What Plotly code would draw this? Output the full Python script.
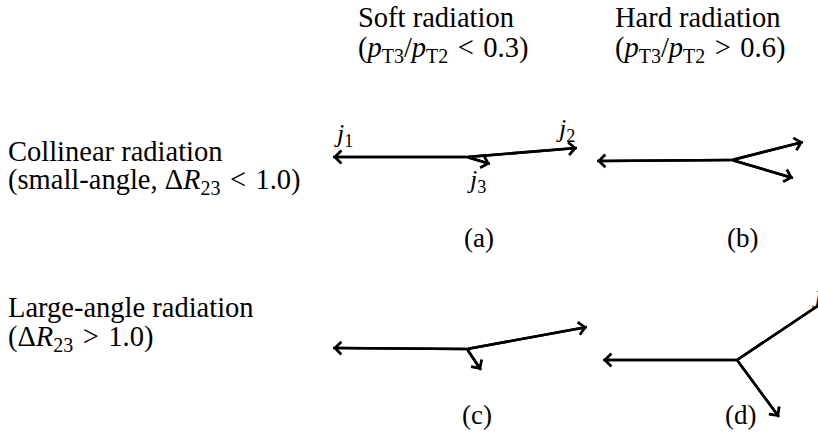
import plotly.graph_objects as go

# ---- diagram data (page coordinates, y downward) ----
panel_labels = ["(a)", "(b)", "(c)", "(d)"]
label_x = [479, 742, 477, 740]
label_y = [238, 238, 415, 415]

vertex_x = [467, 732, 467, 737]
vertex_y = [157, 160, 349, 360]
j1_tip_x = [333, 597, 333, 603]
j1_tip_y = [157, 161, 348, 360]
j2_tip_x = [577, 803, 587, 852]
j2_tip_y = [148, 142, 327, 283]
j3_tip_x = [490, 793, 481, 779]
j3_tip_y = [164, 178, 370, 417]

jet_names = ["<i>j</i><sub>1</sub>", "<i>j</i><sub>2</sub>", "<i>j</i><sub>3</sub>"]
jet_name_x = [343, 565, 476]
jet_name_y = [135, 130, 181]

SP = "\u2004"
col_titles = ["Soft radiation", "Hard radiation"]
col_subtitles = ["(<i>p</i><sub>T3</sub>/<i>p</i><sub>T2</sub>" + SP + "&lt;" + SP + "0.3)",
                 "(<i>p</i><sub>T3</sub>/<i>p</i><sub>T2</sub>" + SP + "&gt;" + SP + "0.6)"]
col_x = [356, 613]

row_titles = ["Collinear radiation", "Large-angle radiation"]
row_subtitles = ["(small-angle, Δ<i>R</i><sub>23</sub>" + SP + "&lt;" + SP + "1.0)",
                 "(Δ<i>R</i><sub>23</sub>" + SP + "&gt;" + SP + "1.0)"]
row_y1 = [151, 307]
row_y2 = [181, 338]

FONT = "Liberation Serif"
FS = 28.5
fig = go.Figure()

# jet lines
for i in range(len(panel_labels)):
    for tx, ty in ((j1_tip_x[i], j1_tip_y[i]), (j2_tip_x[i], j2_tip_y[i]), (j3_tip_x[i], j3_tip_y[i])):
        fig.add_trace(go.Scatter(x=[vertex_x[i], tx], y=[vertex_y[i], ty], mode="lines",
                                 line=dict(color="black", width=2.6), hoverinfo="skip",
                                 showlegend=False))
        fig.add_annotation(x=tx, y=ty, ax=vertex_x[i], ay=vertex_y[i], xref="x", yref="y",
                           axref="x", ayref="y", text="", showarrow=True, arrowhead=4,
                           arrowwidth=2.6, arrowsize=0.95, arrowcolor="black")
    fig.add_annotation(x=label_x[i], y=label_y[i], text=panel_labels[i], showarrow=False,
                       font=dict(family=FONT, size=27, color="black"))

for name, x, y in zip(jet_names, jet_name_x, jet_name_y):
    fig.add_annotation(x=x, y=y, text=name, showarrow=False,
                       font=dict(family=FONT, size=26, color="black"))
# partially visible label at right edge of (d)
fig.add_annotation(x=810, y=296, text="<i>j</i><sub>2</sub>", showarrow=False, xanchor="left",
                   font=dict(family=FONT, size=26, color="black"))

for t, s, x in zip(col_titles, col_subtitles, col_x):
    fig.add_annotation(x=x, y=17, text=t, showarrow=False, xanchor="left",
                       font=dict(family=FONT, size=FS, color="black"))
    fig.add_annotation(x=x, y=49, text=s, showarrow=False, xanchor="left",
                       font=dict(family=FONT, size=FS, color="black"))

for t, s, y1, y2 in zip(row_titles, row_subtitles, row_y1, row_y2):
    fig.add_annotation(x=6, y=y1, text=t, showarrow=False, xanchor="left",
                       font=dict(family=FONT, size=FS, color="black"))
    fig.add_annotation(x=6, y=y2, text=s, showarrow=False, xanchor="left",
                       font=dict(family=FONT, size=FS, color="black"))

fig.update_layout(width=818, height=437, margin=dict(l=0, r=0, t=0, b=0),
                  paper_bgcolor="white", plot_bgcolor="white",
                  xaxis=dict(range=[0, 818], visible=False, fixedrange=True),
                  yaxis=dict(range=[437, 0], visible=False, fixedrange=True))
fig.write_html("out.html", config={"displayModeBar": False},
               post_script="document.body.style.margin='0';document.body.style.overflow='hidden';")
